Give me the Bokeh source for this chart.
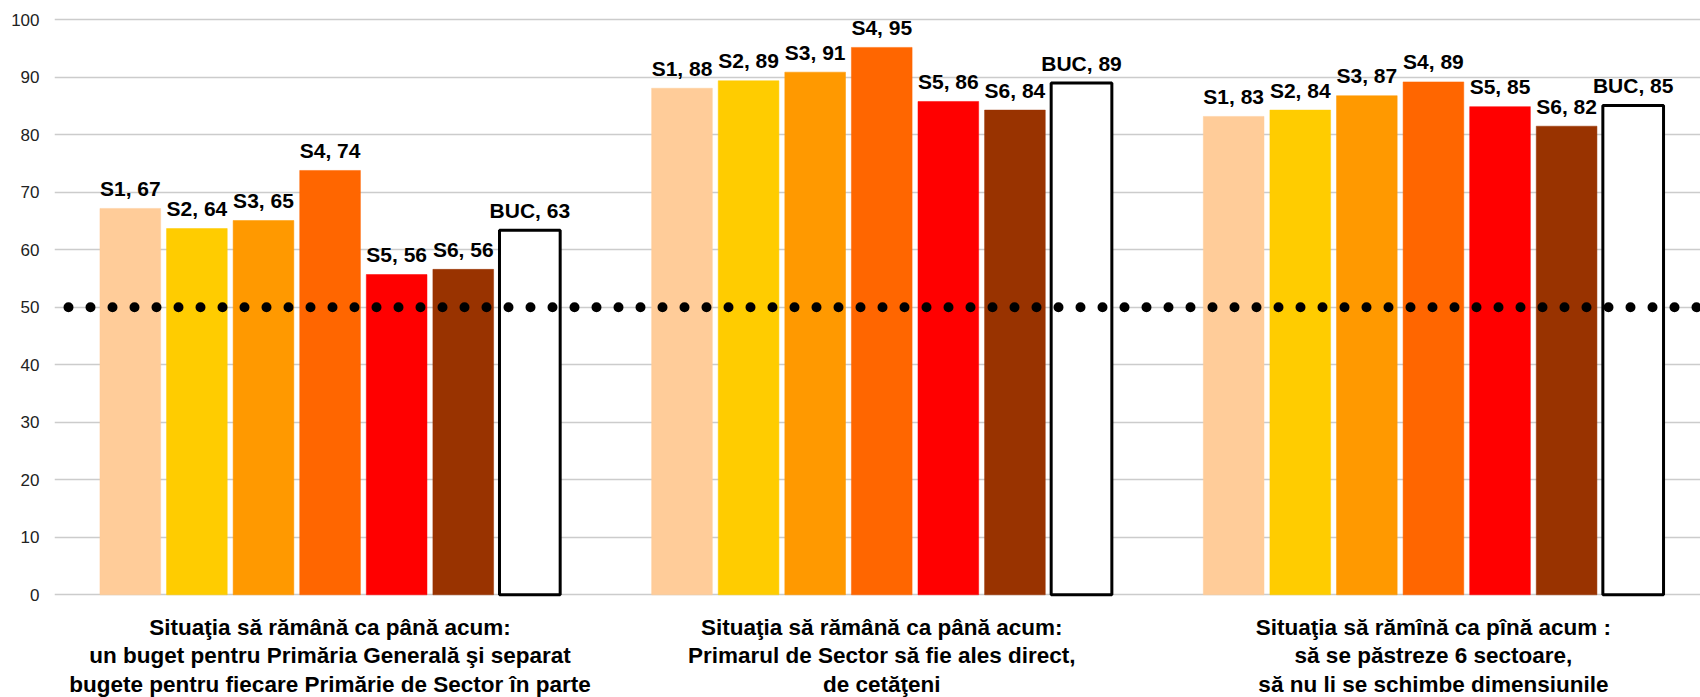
from bokeh.plotting import figure
from bokeh.models import ColumnDataSource, FixedTicker, Span
from bokeh.core.properties import value
from bokeh.embed import file_html
from bokeh.resources import INLINE

# ---------------- data ----------------
categories = [
    "Situaţia să rămână ca până acum:\nun buget pentru Primăria Generală şi separat\nbugete pentru fiecare Primărie de Sector în parte",
    "Situaţia să rămână ca până acum:\nPrimarul de Sector să fie ales direct,\nde cetăţeni",
    "Situaţia să rămînă ca pînă acum :\nsă se păstreze 6 sectoare,\nsă nu li se schimbe dimensiunile",
]
series = ["S1", "S2", "S3", "S4", "S5", "S6", "BUC"]
colors = ["#FFCC99", "#FFCC00", "#FF9900", "#FF6600", "#FF0000", "#993300", "#FFFFFF"]

values_g1 = [67.2, 63.7, 65.1, 73.8, 55.7, 56.6, 63.4]
values_g2 = [88.1, 89.4, 90.9, 95.2, 85.8, 84.3, 89.0]
values_g3 = [83.2, 84.3, 86.8, 89.2, 84.9, 81.5, 85.1]
labels_g1 = [67, 64, 65, 74, 56, 56, 63]
labels_g2 = [88, 89, 91, 95, 86, 84, 89]
labels_g3 = [83, 84, 87, 89, 85, 82, 85]

threshold = 50
y_ticks = [0, 10, 20, 30, 40, 50, 60, 70, 80, 90, 100]

# ---------------- layout ----------------
W, H = 1700, 697
bar_step = 0.1207
bar_width = 0.110

groups_values = [values_g1, values_g2, values_g3]
groups_labels = [labels_g1, labels_g2, labels_g3]

xs, tops, fills, lines, lws, texts = [], [], [], [], [], []
for gi, (vals, labs) in enumerate(zip(groups_values, groups_labels)):
    for bi, (s, v, l) in enumerate(zip(series, vals, labs)):
        xs.append(gi + (bi - 3) * bar_step)
        tops.append(v)
        fills.append(colors[bi])
        is_buc = s == "BUC"
        lines.append("black" if is_buc else colors[bi])
        lws.append(3 if is_buc else 0.5)
        texts.append(f"{s}, {l}")

src = ColumnDataSource(dict(x=xs, top=tops, fill=fills, line=lines, lw=lws, text=texts))

p = figure(width=W, height=H, x_range=(-0.4995, 2.4841), y_range=(-17.86, 103.36),
           output_backend="svg", toolbar_location=None, x_axis_type=None,
           min_border_left=54, min_border_right=0, min_border_top=0, min_border_bottom=0)
p.outline_line_color = None
p.background_fill_color = "white"
p.border_fill_color = "white"

p.xgrid.visible = False
p.ygrid.ticker = FixedTicker(ticks=y_ticks)
p.ygrid.grid_line_color = "#cccccc"
p.ygrid.grid_line_width = 1.5

ax = p.yaxis[0]
ax.ticker = FixedTicker(ticks=y_ticks)
ax.axis_line_color = None
ax.major_tick_line_color = None
ax.minor_tick_line_color = None
ax.major_tick_in = 0
ax.major_tick_out = 0
ax.major_label_standoff = 15
ax.major_label_text_font = "Liberation Sans"
ax.major_label_text_font_size = "17px"
ax.major_label_text_color = "#222222"

p.vbar(x="x", top="top", bottom=0, width=bar_width, source=src,
       fill_color="fill", line_color="line", line_width="lw")

p.text(x="x", y="top", text="text", source=src, text_align="center",
       text_baseline="alphabetic", y_offset=-20,
       text_font=value("Liberation Sans"), text_font_style="bold",
       text_font_size="21px", text_color="black")

ref = Span(location=threshold, dimension="width", line_color="black",
           line_width=10, line_dash="0 22", line_dash_offset=8, line_cap="round")
p.add_layout(ref)

# category labels (three lines each)
split = [c.split("\n") for c in categories]
for k in range(3):
    p.text(x=list(range(len(categories))), y=[-5.6] * len(categories),
           text=[sp[k] for sp in split], text_align="center", text_baseline="middle",
           y_offset=28.6 * k, text_font=value("Liberation Sans"), text_font_style="bold",
           text_font_size="22.5px", text_color="black")

open("out.html", "w").write(file_html(p, INLINE))
